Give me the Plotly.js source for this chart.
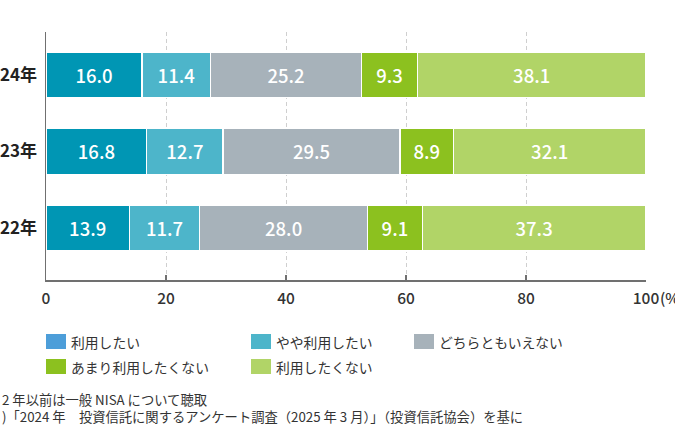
<!DOCTYPE html>
<html>
<head>
<meta charset="utf-8">
<script src="https://cdn.plot.ly/plotly-3.0.1.min.js"></script>
<style>
  html, body { margin: 0; padding: 0; background: #fff; }
  #chart { width: 675px; height: 432px; }
</style>
</head>
<body>
<div id="chart"></div>
<script>
(function () {
    'use strict';

    // Data
    const years = ['2022年', '2023年', '2024年'];
    const seriesNames = ['利用したい', 'やや利用したい', 'どちらともいえない', 'あまり利用したくない', '利用したくない'];
    const want = [13.9, 16.8, 16.0];
    const somewhatWant = [11.7, 12.7, 11.4];
    const neither = [28.0, 29.5, 25.2];
    const ratherNot = [9.1, 8.9, 9.3];
    const notWant = [37.3, 32.1, 38.1];
    const xTicks = [0, 20, 40, 60, 80, 100];
    const notes = [
        '2 年以前は一般 NISA について聴取',
        ')「2024 年　投資信託に関するアンケート調査（2025 年 3 月）」（投資信託協会）を基に'
    ];

    const series = [want, somewhatWant, neither, ratherNot, notWant];

    const COLORS = {
        bars: ['#0096b4', '#4db5ca', '#a7b2ba', '#8cc11f', '#b1d467'],
        swatches: ['#4d9ed9', '#4db5ca', '#a7b2ba', '#8cc11f', '#b1d467'],
        text: '#333333',
        axis: '#707070',
        grid: '#cfcfcf'
    };

    const FONT = '"Noto Sans CJK JP", "Noto Sans", sans-serif';

    // plot area in pixels
    const W = 675, H = 432;
    const M = { l: 46, r: 29, t: 32, b: 152 };
    const px = x => (x - M.l) / (W - M.l - M.r);
    const py = y => (H - M.b - y) / (H - M.t - M.b);

    const traces = series.map((vals, i) => ({
        type: 'bar',
        orientation: 'h',
        name: seriesNames[i],
        y: years,
        x: vals,
        marker: { color: COLORS.bars[i], line: { color: '#ffffff', width: 1.2 } },
        text: vals.map(v => v.toFixed(1)),
        texttemplate: '%{text}',
        textposition: 'inside',
        insidetextanchor: 'middle',
        textangle: 0,
        constraintext: 'none',
        textfont: { family: FONT, color: '#ffffff', size: 18.5, weight: 500 },
        hoverinfo: 'skip',
        showlegend: false
    }));

    // hand-built legend: 3 columns, 2 rows
    const legendPos = [
        { x: 46, y: 334 }, { x: 251, y: 334 }, { x: 414, y: 334 },
        { x: 46, y: 359 }, { x: 251, y: 359 }
    ];
    const shapes = [];
    const annotations = [];
    seriesNames.forEach((name, i) => {
        const p = legendPos[i];
        shapes.push({
            type: 'rect', xref: 'paper', yref: 'paper',
            x0: px(p.x), x1: px(p.x + 20), y0: py(p.y + 15), y1: py(p.y),
            fillcolor: COLORS.swatches[i], line: { width: 0 }
        });
        annotations.push({
            xref: 'paper', yref: 'paper', x: px(p.x + 23), y: py(p.y + 7.5),
            xanchor: 'left', yanchor: 'middle', showarrow: false,
            text: name,
            font: { family: FONT, size: 13.8, color: COLORS.text }
        });
    });

    // unit after the 100 tick
    annotations.push({
        xref: 'paper', yref: 'paper', x: px(659), y: py(297),
        xanchor: 'left', yanchor: 'middle', showarrow: false, borderpad: 0,
        text: '(%)', font: { family: FONT, size: 15, color: COLORS.text, weight: 500 }
    });

    // footnotes
    annotations.push({
        xref: 'paper', yref: 'paper', x: px(0), y: py(408),
        xanchor: 'left', yanchor: 'middle', align: 'left', showarrow: false,
        text: notes.join('<br>'), font: { family: FONT, size: 13.3, color: COLORS.text }
    });

    const layout = {
        width: W,
        height: H,
        margin: M,
        paper_bgcolor: '#ffffff',
        plot_bgcolor: '#ffffff',
        font: { family: FONT, color: COLORS.text },
        barmode: 'stack',
        bargap: 0.4,
        showlegend: false,
        xaxis: {
            range: [0, 100],
            tickvals: xTicks,
            ticktext: xTicks.map(String),
            ticks: 'inside',
            ticklen: 5,
            tickwidth: 1.5,
            tickcolor: COLORS.axis,
            showline: true,
            linecolor: COLORS.axis,
            linewidth: 1.5,
            showgrid: true,
            gridcolor: COLORS.grid,
            gridwidth: 1,
            griddash: '4px,3px',
            zeroline: false,
            ticklabelstandoff: 4,
            tickfont: { family: FONT, size: 15.5, color: COLORS.text, weight: 500 },
            fixedrange: true
        },
        yaxis: {
            type: 'category',
            categoryarray: years,
            range: [-0.68, 2.56],
            showline: true,
            linecolor: COLORS.axis,
            linewidth: 1.5,
            showgrid: false,
            zeroline: false,
            ticks: '',
            ticklabelstandoff: 4,
            tickfont: { family: FONT, size: 17, color: '#222222', weight: 'bold' },
            fixedrange: true
        },
        shapes: shapes,
        annotations: annotations
    };

    Plotly.newPlot('chart', traces, layout, { displayModeBar: false, staticPlot: true });
})();
</script>
</body>
</html>
